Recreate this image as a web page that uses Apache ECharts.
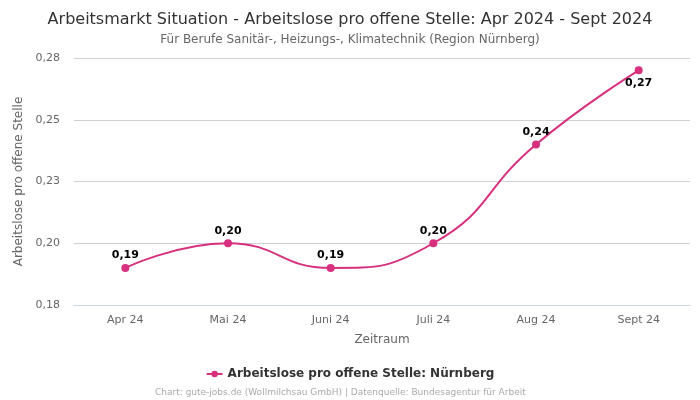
<!DOCTYPE html>
<html><head><meta charset="utf-8">
<script src="https://cdn.jsdelivr.net/npm/echarts@6/dist/echarts.min.js"></script>
<style>html,body{margin:0;padding:0;background:#fff}#c{width:700px;height:400px}</style>
</head><body><div id="c"></div>
<script>
const categories = ["Apr 24","Mai 24","Juni 24","Juli 24","Aug 24","Sept 24"];
const values = [0.19, 0.20, 0.19, 0.20, 0.24, 0.27];
const seriesName = "Arbeitslose pro offene Stelle: Nürnberg";
const labelBelow = [false, false, false, false, false, true];
const color = "#d6307f";
const font = "DejaVu Sans";
const chart = echarts.init(document.getElementById('c'), null, {renderer:'canvas'});
const fmt = v => (Math.round(v*100 + 1e-6)/100).toFixed(2).replace('.', ',');
chart.setOption({
  animation:false,
  textStyle:{fontFamily:font},
  title:[
    {text:"Arbeitsmarkt Situation - Arbeitslose pro offene Stelle: Apr 2024 - Sept 2024", left:'center', top:7,
     textStyle:{fontFamily:font, fontSize:16, fontWeight:'normal', color:'#333'}},
    {text:"Für Berufe Sanitär-, Heizungs-, Klimatechnik (Region Nürnberg)", left:'center', top:29,
     textStyle:{fontFamily:font, fontSize:12, fontWeight:'normal', color:'#666'}},
    {text:"Chart: gute-jobs.de (Wollmilchsau GmbH) | Datenquelle: Bundesagentur für Arbeit", left:150, top:383,
     textStyle:{fontFamily:font, fontSize:9, fontWeight:'normal', color:'#aaa'}}
  ],
  legend:{top:363, left:'center', itemWidth:16, itemHeight:8, itemGap:6,
    textStyle:{fontFamily:font, fontSize:12, fontWeight:'bold', color:'#333'},
    data:[seriesName]},
  grid:{left:74, right:10, top:58, bottom:95},
  xAxis:{type:'category', data:categories, boundaryGap:true,
    name:'Zeitraum', nameLocation:'middle', nameGap:29,
    nameTextStyle:{fontFamily:font, fontSize:12, color:'#666'},
    axisLine:{show:true, lineStyle:{color:'#ccd6eb'}}, axisTick:{show:false},
    axisLabel:{fontFamily:font, fontSize:11, color:'#666', margin:10}},
  yAxis:{type:'value', min:0.175, max:0.275, interval:0.025,
    name:'Arbeitslose pro offene Stelle', nameLocation:'middle', nameGap:47,
    nameTextStyle:{fontFamily:font, fontSize:12, color:'#666'},
    axisLabel:{fontFamily:font, fontSize:11, color:'#666', margin:14, formatter:v=>fmt(v)},
    splitLine:{lineStyle:{color:'#d0d0d0'}}, axisLine:{show:false}, axisTick:{show:false}},
  series:[{
    name:seriesName, type:'line', smooth:true, symbol:'circle', symbolSize:8,
    itemStyle:{color:color}, lineStyle:{color:color, width:2},
    data: values.map((v,i)=>({value:v, label:{position: labelBelow[i] ? 'bottom' : 'top'}})),
    label:{show:true, fontFamily:font, fontSize:11, fontWeight:'bold', color:'#000', distance:3,
      formatter:p=>fmt(p.value)}
  }]
});
</script></body></html>
